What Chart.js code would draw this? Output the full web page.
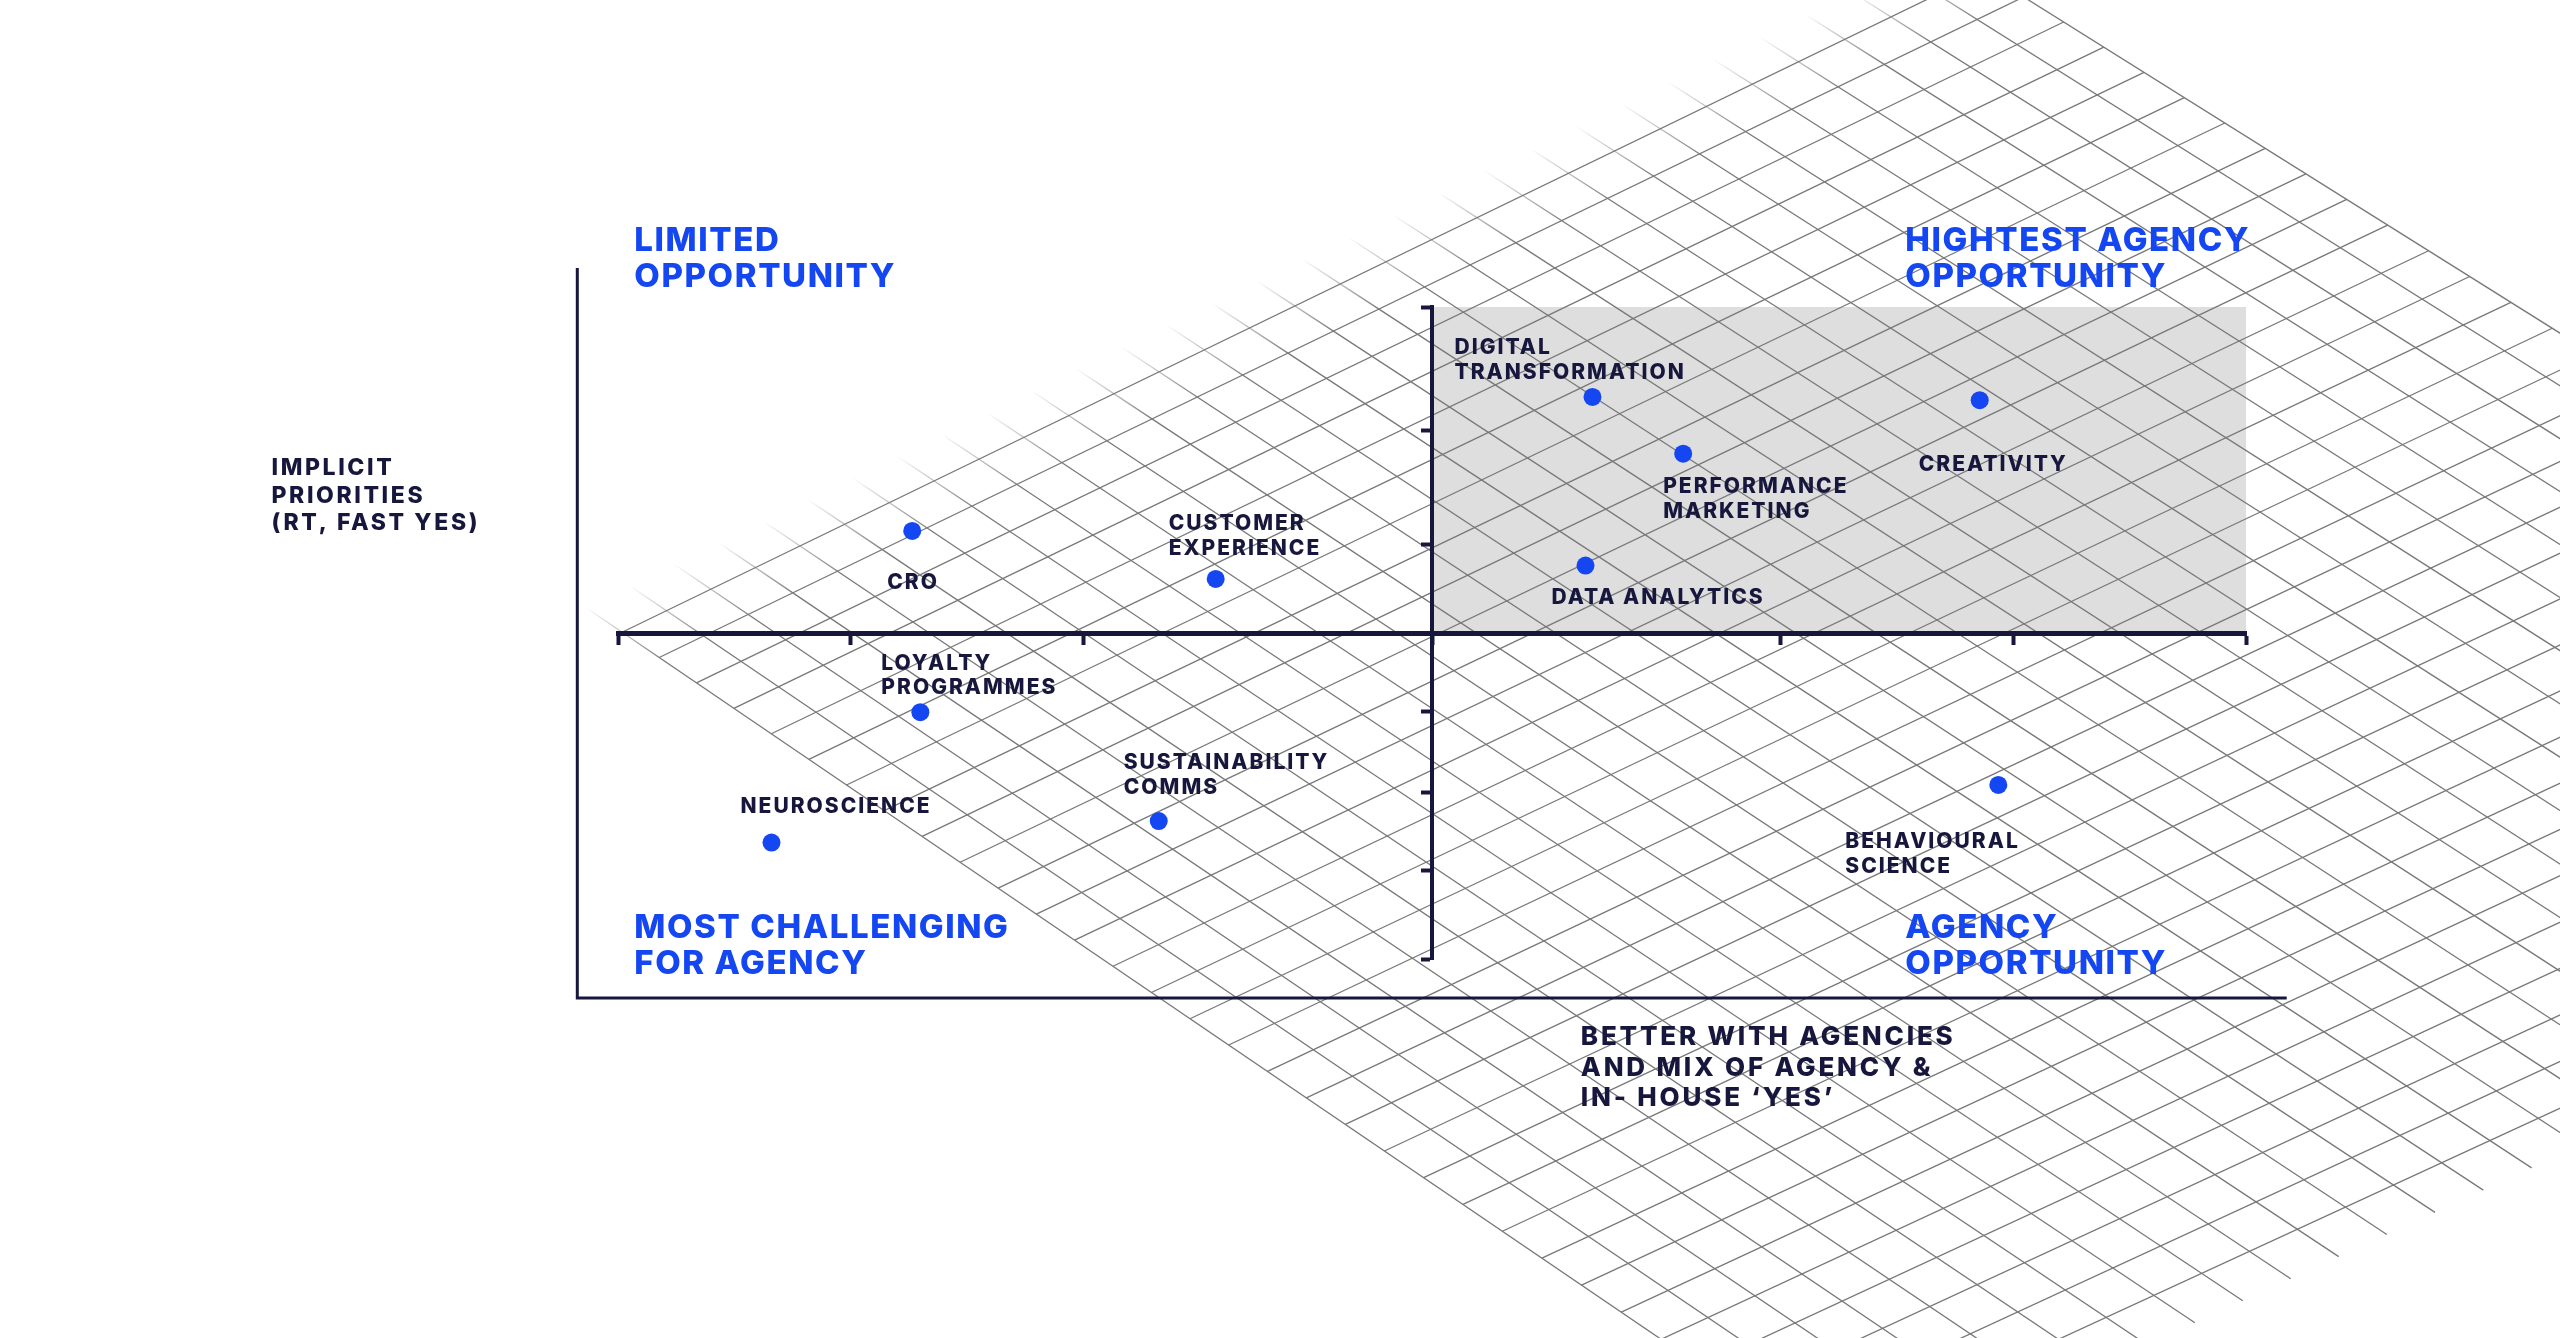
<!DOCTYPE html>
<html>
<head>
<meta charset="utf-8">
<script src="https://cdn.jsdelivr.net/npm/chart.js@4.4.1/dist/chart.umd.min.js"></script>
<style>
    html, body { margin: 0; padding: 0; background: #ffffff; overflow: hidden; }
    canvas { display: block; }
</style>
</head>
<body>
<canvas id="matriz" width="2560" height="1338"></canvas>
<script>
const capacidades = [
    ['CRO'],
    ['CUSTOMER', 'EXPERIENCE'],
    ['DIGITAL', 'TRANSFORMATION'],
    ['PERFORMANCE', 'MARKETING'],
    ['CREATIVITY'],
    ['DATA ANALYTICS'],
    ['LOYALTY', 'PROGRAMMES'],
    ['SUSTAINABILITY', 'COMMS'],
    ['NEUROSCIENCE'],
    ['BEHAVIOURAL', 'SCIENCE']
]
const agencia = [-4.47, -1.86, 1.38, 2.16, 4.71, 1.32, -4.40, -2.35, -5.68, 4.87]
const prioridade = [3.13, 1.66, 7.24, 5.50, 7.14, 2.07, -2.43, -5.77, -6.43, -4.66]

const ticksX = [-7, -5, -3, 0, 3, 5, 7]
const ticksY = [-10, -7.3, -4.9, -2.4, 0, 2.7, 6.2, 10]

const quadrantes = [
    ['LIMITED', 'OPPORTUNITY'],
    ['HIGHTEST AGENCY', 'OPPORTUNITY'],
    ['MOST CHALLENGING', 'FOR AGENCY'],
    ['AGENCY', 'OPPORTUNITY']
]
const tituloY = ['IMPLICIT', 'PRIORITIES', '(RT, FAST YES)']
const tituloX = ['BETTER WITH AGENCIES', 'AND MIX OF AGENCY &', 'IN- HOUSE \u2018YES\u2019']

// onde fica cada texto (px em relacao ao ponto, ou valores de escala)
const deslocRotulos = [[-25, 52], [-47, -55], [-138, -49], [-20, 33], [-61, 64],
                       [-34, 32], [-39, -49], [-35, -58], [-31, -36], [-153, 57]]
const posQuadrantes = [[-6.86, 12.03], [4.07, 12.03], [-6.86, -9.04], [4.07, -9.04]]
const posTituloY = [-9.98, 5.05]
const posTituloX = [1.28, -12.4]
const moldura = { x: 7.35, y: 11.2 }

const azul = '#1447f2'
const marinho = '#17173d'

// grade em perspectiva do fundo (cantos em px)
const cantosGrade = { esq: [585, 607], topo: [1944, -53], dir: [3316, 807], base: [1862, 1476] }
const celulasU = 30
const celulasV = 33

function homografia(L, T, R, B) {
    const [x0, y0] = L, [x1, y1] = T, [x2, y2] = R, [x3, y3] = B
    const dx1 = x1 - x2, dx2 = x3 - x2, dx3 = x0 - x1 + x2 - x3
    const dy1 = y1 - y2, dy2 = y3 - y2, dy3 = y0 - y1 + y2 - y3
    const den = dx1 * dy2 - dx2 * dy1
    const g = (dx3 * dy2 - dx2 * dy3) / den
    const h = (dx1 * dy3 - dx3 * dy1) / den
    const a = x1 - x0 + g * x1, b = x3 - x0 + h * x3
    const d = y1 - y0 + g * y1, e = y3 - y0 + h * y3
    return function(u, v) {
        const w = g * u + h * v + 1
        return [(a * u + b * v + x0) / w, (d * u + e * v + y0) / w]
    }
}

function desenharGrade(ctx) {
    const P = homografia(cantosGrade.esq, cantosGrade.topo, cantosGrade.dir, cantosGrade.base)
    ctx.lineWidth = 1.3
    // linhas "\" com inicio esmaecido
    for (let i = 0; i <= celulasU; i++) {
        const a = P(i / celulasU, 0)
        const b = P(i / celulasU, 1)
        const len = Math.hypot(b[0] - a[0], b[1] - a[1])
        const f = 95 / len
        const grad = ctx.createLinearGradient(a[0], a[1], a[0] + (b[0] - a[0]) * f, a[1] + (b[1] - a[1]) * f)
        grad.addColorStop(0, 'rgba(120,120,120,0)')
        grad.addColorStop(1, 'rgba(120,120,120,1)')
        ctx.strokeStyle = grad
        ctx.beginPath()
        ctx.moveTo(a[0], a[1])
        ctx.lineTo(b[0], b[1])
        ctx.stroke()
    }
    // linhas "/" (a ultima fica aberta, como no original)
    ctx.strokeStyle = 'rgb(120,120,120)'
    for (let j = 1; j < celulasV; j++) {
        const a = P(0, j / celulasV)
        const b = P(1, j / celulasV)
        ctx.beginPath()
        ctx.moveTo(a[0], a[1])
        ctx.lineTo(b[0], b[1])
        ctx.stroke()
    }
}

function escreverLinhas(ctx, linhas, x, y, alturaLinha) {
    for (let k = 0; k < linhas.length; k++) {
        ctx.fillText(linhas[k], x, y + k * alturaLinha)
    }
}

const fundo = {
    id: 'fundo',
    beforeDraw(chart) {
        const ctx = chart.ctx
        const sx = chart.scales.x
        const sy = chart.scales.y
        ctx.save()
        ctx.fillStyle = '#ffffff'
        ctx.fillRect(0, 0, chart.width, chart.height)

        // quadrante de maior oportunidade
        const x0 = sx.getPixelForValue(0)
        const y0 = sy.getPixelForValue(0)
        const x1 = sx.getPixelForValue(sx.max)
        const y1 = sy.getPixelForValue(sy.max)
        ctx.fillStyle = '#dedede'
        ctx.fillRect(x0, y1, x1 - x0, y0 - y1)

        desenharGrade(ctx)
        ctx.restore()
    },
    afterDraw(chart) {
        const ctx = chart.ctx
        const sx = chart.scales.x
        const sy = chart.scales.y
        ctx.save()

        // moldura externa em L
        ctx.strokeStyle = marinho
        ctx.lineWidth = 3
        ctx.beginPath()
        ctx.moveTo(sx.getPixelForValue(-moldura.x), sy.getPixelForValue(moldura.y))
        ctx.lineTo(sx.getPixelForValue(-moldura.x), sy.getPixelForValue(-moldura.y))
        ctx.lineTo(sx.getPixelForValue(moldura.x), sy.getPixelForValue(-moldura.y))
        ctx.stroke()

        ctx.textAlign = 'left'
        ctx.textBaseline = 'middle'

        // titulos dos quadrantes
        ctx.fillStyle = azul
        ctx.font = '800 33px Inter'
        ctx.letterSpacing = '1.6px'
        for (let q = 0; q < quadrantes.length; q++) {
            escreverLinhas(ctx, quadrantes[q], sx.getPixelForValue(posQuadrantes[q][0]),
                sy.getPixelForValue(posQuadrantes[q][1]), 36)
        }

        // titulos dos eixos
        ctx.fillStyle = marinho
        ctx.font = '800 23px Inter'
        ctx.letterSpacing = '2.6px'
        escreverLinhas(ctx, tituloY, sx.getPixelForValue(posTituloY[0]), sy.getPixelForValue(posTituloY[1]), 27.5)
        ctx.font = '800 26px Inter'
        ctx.letterSpacing = '2.8px'
        escreverLinhas(ctx, tituloX, sx.getPixelForValue(posTituloX[0]), sy.getPixelForValue(posTituloX[1]), 30.5)

        // rotulos dos pontos
        ctx.font = '800 21px Inter'
        ctx.letterSpacing = '2px'
        const meta = chart.getDatasetMeta(0)
        meta.data.forEach(function(ponto, i) {
            escreverLinhas(ctx, capacidades[i], ponto.x + deslocRotulos[i][0], ponto.y + deslocRotulos[i][1], 24.5)
        })

        ctx.letterSpacing = '0px'
        ctx.restore()
    }
}

const pontos = []
for (let i = 0; i < agencia.length; i++) {
    pontos.push({ x: agencia[i], y: prioridade[i] })
}

const ctx = document.getElementById('matriz')

var grafico = new Chart(ctx, {
    type: 'scatter',
    data: {
        datasets: [{
            label: '',
            data: pontos,
            pointRadius: 9,
            pointHoverRadius: 9,
            backgroundColor: azul,
            borderWidth: 0
        }]
    },
    options: {
        responsive: false,
        devicePixelRatio: 1,
        animation: false,
        events: [],
        layout: {
            padding: { left: 618, right: 314, top: 307, bottom: 379 }
        },
        scales: {
            x: {
                type: 'linear',
                min: -7,
                max: 7,
                position: { y: 0 },
                afterBuildTicks: function(escala) {
                    escala.ticks = ticksX.map(v => ({ value: v }))
                },
                ticks: { display: false },
                grid: { drawOnChartArea: false, drawTicks: true, tickLength: 9, tickWidth: 4, tickColor: marinho },
                border: { display: true, color: marinho, width: 5 }
            },
            y: {
                type: 'linear',
                min: -10,
                max: 10,
                position: { x: 0 },
                afterBuildTicks: function(escala) {
                    escala.ticks = ticksY.map(v => ({ value: v }))
                },
                ticks: { display: false },
                grid: { drawOnChartArea: false, drawTicks: true, tickLength: 9, tickWidth: 4, tickColor: marinho },
                border: { display: true, color: marinho, width: 4 }
            }
        },
        plugins: {
            legend: { display: false },
            tooltip: { enabled: false },
            title: { display: false }
        }
    },
    plugins: [fundo]
})
</script>
</body>
</html>
